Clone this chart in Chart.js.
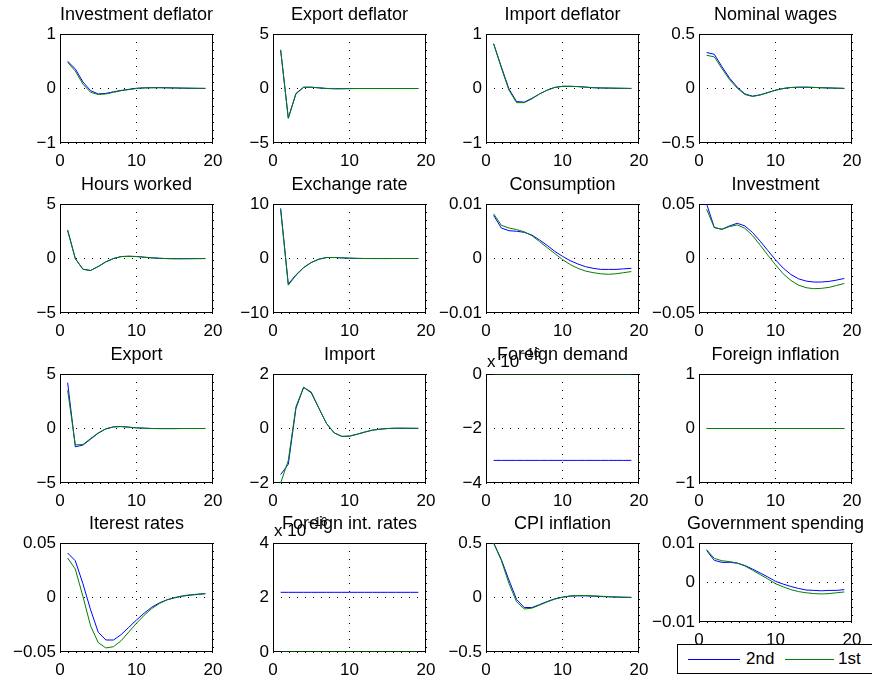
<!DOCTYPE html>
<html>
<head>
<meta charset="utf-8">
<script src="https://cdn.jsdelivr.net/npm/chart.js@4.4.1/dist/chart.umd.min.js"></script>
<style>
html,body{margin:0;padding:0;background:#fff;overflow:hidden;width:872px;height:681px;}
canvas.cv{position:absolute;}
#legend{position:absolute;left:677px;top:644px;width:200px;height:28px;border:1px solid #000;background:#fff;font:17px "Liberation Sans",Arial,sans-serif;color:#000;z-index:5;}
#legend .ln{position:absolute;top:14px;height:0;border-top:1px solid;}
#legend .tx{position:absolute;top:4px;line-height:20px;}
</style>
</head>
<body>
<div id="legend"></div>
<script>
// ---- data ----
const periods = [1,2,3,4,5,6,7,8,9,10,11,12,13,14,15,16,17,18,19];
const xTicks = [0, 10, 20];
const seriesNames = ['2nd', '1st'];
const seriesColors = ['#0000ff', '#008000'];
const titles = ['Investment deflator','Export deflator','Import deflator','Nominal wages',
  'Hours worked','Exchange rate','Consumption','Investment',
  'Export','Import','Foreign demand','Foreign inflation',
  'Iterest rates','Foreign int. rates','CPI inflation','Government spending'];

const ticksInvDefl = [-1, 0, 1];
const ticksExpDefl = [-5, 0, 5];
const ticksImpDefl = [-1, 0, 1];
const ticksWages = [-0.5, 0, 0.5];
const ticksHours = [-5, 0, 5];
const ticksExch = [-10, 0, 10];
const ticksCons = [-0.01, 0, 0.01];
const ticksInvest = [-0.05, 0, 0.05];
const ticksExport = [-5, 0, 5];
const ticksImport = [-2, 0, 2];
const ticksForDem = [-4e-16, -2e-16, 0];
const ticksForInfl = [-1, 0, 1];
const ticksRates = [-0.05, 0, 0.05];
const ticksForRate = [0, 2e-16, 4e-16];
const ticksCpi = [-0.5, 0, 0.5];
const ticksGov = [-0.01, 0, 0.01];

const invDefl2nd = [0.50,0.36,0.12,-0.04,-0.10,-0.09,-0.06,-0.035,-0.015,0.005,0.012,0.015,0.015,0.013,0.010,0.007,0.005,0.003,0.002];
const invDefl1st = [0.48,0.32,0.08,-0.07,-0.11,-0.10,-0.07,-0.04,-0.02,0.0,0.01,0.014,0.015,0.012,0.010,0.007,0.005,0.003,0.002];
const expDefl2nd = [3.55,-2.7,-0.45,0.12,0.12,0.06,0.0,-0.02,-0.02,-0.01,0,0,0,0,0,0,0,0,0];
const expDefl1st = [3.5,-2.75,-0.5,0.10,0.12,0.06,0.01,-0.02,-0.02,-0.01,0,0,0,0,0,0,0,0,0];
const impDefl2nd = [0.82,0.40,-0.01,-0.24,-0.25,-0.18,-0.10,-0.03,0.02,0.04,0.04,0.035,0.025,0.015,0.01,0.008,0.005,0.003,0.001];
const impDefl1st = [0.82,0.38,-0.03,-0.26,-0.26,-0.19,-0.10,-0.03,0.02,0.04,0.04,0.035,0.025,0.015,0.01,0.008,0.005,0.003,0.001];
const wages2nd = [0.33,0.314,0.20,0.095,0.012,-0.05,-0.07,-0.058,-0.037,-0.015,0.0,0.009,0.012,0.012,0.01,0.007,0.005,0.003,0.001];
const wages1st = [0.305,0.29,0.183,0.08,0.003,-0.055,-0.073,-0.06,-0.038,-0.016,0.0,0.009,0.012,0.012,0.01,0.007,0.005,0.003,0.001];
const hours2nd = [2.62,0.0,-0.98,-1.1,-0.73,-0.3,0.0,0.18,0.21,0.18,0.12,0.06,0.02,-0.01,-0.02,-0.02,-0.015,-0.01,-0.005];
const hours1st = [2.55,-0.02,-1.0,-1.1,-0.74,-0.31,0.0,0.17,0.2,0.18,0.12,0.06,0.02,-0.01,-0.02,-0.02,-0.015,-0.01,-0.005];
const exch2nd = [9.2,-4.7,-3.0,-1.65,-0.73,-0.12,0.18,0.18,0.12,0.06,0.02,0.0,-0.01,-0.01,-0.01,0,0,0,0];
const exch1st = [8.9,-4.9,-3.1,-1.7,-0.75,-0.13,0.17,0.18,0.12,0.06,0.02,0.0,-0.01,-0.01,-0.01,0,0,0,0];
const cons2nd = [0.0079,0.0056,0.0051,0.0050,0.0048,0.0043,0.0034,0.0024,0.0013,0.0004,-0.0004,-0.0010,-0.0015,-0.0018,-0.0020,-0.0020,-0.0020,-0.0019,-0.0018];
const cons1st = [0.0082,0.0061,0.0056,0.0053,0.0049,0.0042,0.0031,0.0020,0.0009,-0.0002,-0.0011,-0.0018,-0.0023,-0.0026,-0.0028,-0.0029,-0.0028,-0.0026,-0.0024];
const invest2nd = [0.050,0.0284,0.0268,0.0299,0.0323,0.0299,0.0238,0.0159,0.0073,-0.0012,-0.0088,-0.0146,-0.0186,-0.0207,-0.0216,-0.0216,-0.021,-0.0198,-0.0183];
const invest1st = [0.0451,0.0284,0.0268,0.0293,0.0308,0.0277,0.021,0.0122,0.003,-0.0058,-0.014,-0.0201,-0.0244,-0.0268,-0.0277,-0.0274,-0.0265,-0.0247,-0.0229];
const export2nd = [4.2,-1.68,-1.52,-0.98,-0.43,-0.03,0.15,0.18,0.12,0.06,0.03,0.0,-0.01,-0.01,-0.01,0,0,0,0];
const export1st = [3.5,-1.5,-1.47,-0.92,-0.4,-0.03,0.15,0.18,0.12,0.06,0.03,0.0,-0.01,-0.01,-0.01,0,0,0,0];
const import2nd = [-1.69,-1.31,0.74,1.51,1.31,0.74,0.18,-0.16,-0.29,-0.28,-0.21,-0.13,-0.06,-0.025,0.0,0.01,0.01,0.008,0.005];
const import1st = [-2.0,-1.17,0.80,1.51,1.34,0.75,0.18,-0.16,-0.29,-0.28,-0.21,-0.13,-0.06,-0.025,0.0,0.01,0.01,0.008,0.005];
const forDem2nd = [-3.17e-16,-3.17e-16,-3.17e-16,-3.17e-16,-3.17e-16,-3.17e-16,-3.17e-16,-3.17e-16,-3.17e-16,-3.17e-16,-3.17e-16,-3.17e-16,-3.17e-16,-3.17e-16,-3.17e-16,-3.17e-16,-3.17e-16,-3.17e-16,-3.17e-16];
const forDem1st = [0,0,0,0,0,0,0,0,0,0,0,0,0,0,0,0,0,0,0];
const forInfl2nd = [0,0,0,0,0,0,0,0,0,0,0,0,0,0,0,0,0,0,0];
const forInfl1st = [0,0,0,0,0,0,0,0,0,0,0,0,0,0,0,0,0,0,0];
const rates2nd = [0.0408,0.0337,0.0126,-0.0113,-0.0319,-0.039,-0.039,-0.034,-0.0273,-0.0206,-0.0144,-0.0089,-0.0049,-0.0021,-0.0003,0.0012,0.0021,0.0028,0.0034];
const rates1st = [0.0362,0.0261,0.0009,-0.0261,-0.0414,-0.0463,-0.0451,-0.0396,-0.0316,-0.0236,-0.0163,-0.0101,-0.0055,-0.0021,0.0,0.0015,0.0025,0.0031,0.0037];
const forRate2nd = [2.19e-16,2.19e-16,2.19e-16,2.19e-16,2.19e-16,2.19e-16,2.19e-16,2.19e-16,2.19e-16,2.19e-16,2.19e-16,2.19e-16,2.19e-16,2.19e-16,2.19e-16,2.19e-16,2.19e-16,2.19e-16,2.19e-16];
const forRate1st = [0,0,0,0,0,0,0,0,0,0,0,0,0,0,0,0,0,0,0];
const cpi2nd = [0.5,0.35,0.16,-0.018,-0.092,-0.092,-0.065,-0.037,-0.012,0.003,0.012,0.015,0.015,0.012,0.009,0.006,0.004,0.002,0.001];
const cpi1st = [0.5,0.34,0.13,-0.04,-0.105,-0.098,-0.07,-0.04,-0.015,0.003,0.015,0.018,0.018,0.015,0.012,0.008,0.005,0.003,0.001];
const gov2nd = [0.0081,0.0056,0.0051,0.0051,0.0049,0.0043,0.0034,0.0024,0.0014,0.0003,-0.0004,-0.0010,-0.0015,-0.0019,-0.0020,-0.0021,-0.0020,-0.0020,-0.0018];
const gov1st = [0.0083,0.0061,0.0055,0.0053,0.0049,0.0042,0.0031,0.0020,0.0009,-0.0003,-0.0011,-0.0018,-0.0023,-0.0026,-0.0028,-0.0029,-0.0028,-0.0026,-0.0024];

// ---- panel definitions (built from the arrays above) ----
const panels = [
  {yTicks: ticksInvDefl, s: [invDefl2nd, invDefl1st]},
  {yTicks: ticksExpDefl, s: [expDefl2nd, expDefl1st]},
  {yTicks: ticksImpDefl, s: [impDefl2nd, impDefl1st]},
  {yTicks: ticksWages, s: [wages2nd, wages1st]},
  {yTicks: ticksHours, s: [hours2nd, hours1st]},
  {yTicks: ticksExch, s: [exch2nd, exch1st]},
  {yTicks: ticksCons, s: [cons2nd, cons1st]},
  {yTicks: ticksInvest, s: [invest2nd, invest1st]},
  {yTicks: ticksExport, s: [export2nd, export1st]},
  {yTicks: ticksImport, s: [import2nd, import1st]},
  {yTicks: ticksForDem, s: [forDem2nd, forDem1st], exp: -16},
  {yTicks: ticksForInfl, s: [forInfl2nd, forInfl1st]},
  {yTicks: ticksRates, s: [rates2nd, rates1st]},
  {yTicks: ticksForRate, s: [forRate2nd, forRate1st], exp: -16},
  {yTicks: ticksCpi, s: [cpi2nd, cpi1st]},
  {yTicks: ticksGov, s: [gov2nd, gov1st], short: true}
];

// ---- layout ----
const colLeft = [60, 273, 486, 699];
const rowTop = [34, 204, 374, 543];
const plotW = 153, plotH = 109, shortH = 79;
const padL = 60, padT = 34, padR = 60, padB = 30;
const FONT = '"Liberation Sans", Arial, Helvetica, sans-serif';

const boxPlugin = {
  id: 'matlabBox',
  beforeDatasetsDraw(chart) {
    const a = chart.chartArea, c = chart.ctx;
    c.save();
    c.strokeStyle = '#000';
    c.lineWidth = 1;
    c.strokeRect(Math.round(a.left) + 0.5, Math.round(a.top) + 0.5,
                 Math.round(a.right - a.left) - 1, Math.round(a.bottom - a.top) - 1);
    c.restore();
  },
  afterDraw(chart) {
    const e = chart.options.plugins.matlabBox && chart.options.plugins.matlabBox.exp;
    if (e === undefined || e === null) return;
    const a = chart.chartArea, c = chart.ctx;
    c.save();
    c.fillStyle = '#000';
    c.textBaseline = 'alphabetic';
    c.textAlign = 'left';
    c.font = '17px ' + FONT;
    const base = 'x 10';
    c.fillText(base, a.left + 1, a.top - 7);
    const w = c.measureText(base).width;
    c.font = '12px ' + FONT;
    c.fillText(String(e).replace('-', '\u2212'), a.left + 1 + w + 1, a.top - 17);
    c.restore();
  }
};

function fmt(v, scale) {
  let n = scale ? Math.round(v / scale * 1000) / 1000 : Math.round(v * 1e6) / 1e6;
  return String(n).replace('-', '\u2212');
}

panels.forEach((p, i) => {
  const r = Math.floor(i / 4), col = i % 4;
  const h = p.short ? shortH : plotH;
  const cv = document.createElement('canvas');
  cv.className = 'cv';
  cv.width = plotW + padL + padR;
  cv.height = h + padT + padB;
  cv.style.left = (colLeft[col] - padL) + 'px';
  cv.style.top = (rowTop[r] - padT) + 'px';
  cv.style.width = cv.width + 'px';
  cv.style.height = cv.height + 'px';
  document.body.appendChild(cv);
  const scale = p.exp !== undefined ? Math.pow(10, p.exp) : null;
  const yT = p.yTicks;
  new Chart(cv.getContext('2d'), {
    type: 'line',
    data: {
      datasets: p.s.map((arr, k) => ({
        label: seriesNames[k],
        data: periods.map((x, j) => ({x: x, y: arr[j]})),
        borderColor: seriesColors[k],
        backgroundColor: seriesColors[k],
        borderWidth: 1,
        pointRadius: 0,
        tension: 0,
        fill: false,
        yAxisID: 'y',
        order: k === 0 ? 1 : 0
      }))
    },
    options: {
      responsive: false,
      animation: false,
      events: [],
      devicePixelRatio: 1,
      layout: {padding: 0},
      plugins: {
        legend: {display: false},
        tooltip: {enabled: false},
        title: {
          display: true, text: titles[i], fullSize: true, color: '#000',
          font: {family: FONT, size: 18, weight: 'normal', lineHeight: 1.2},
          padding: {top: 4, bottom: 8.4}
        },
        matlabBox: {exp: p.exp}
      },
      scales: {
        x: {
          type: 'linear', min: xTicks[0], max: xTicks[xTicks.length - 1],
          afterBuildTicks: s => { s.ticks = xTicks.map(v => ({value: v})); },
          afterFit: s => { s.height = padB; },
          ticks: {autoSkip: false, maxRotation: 0, padding: 8, color: '#000',
                  font: {family: FONT, size: 17, lineHeight: 1.2},
                  callback: v => fmt(v, null)},
          grid: {color: '#000', lineWidth: 1, drawTicks: false},
          border: {display: false, dash: [1, 7]}
        },
        y: {
          type: 'linear', position: 'left', min: yT[0], max: yT[yT.length - 1],
          afterBuildTicks: s => { s.ticks = yT.map(v => ({value: v})); },
          afterFit: s => { s.width = padL; },
          ticks: {autoSkip: false, padding: 4, color: '#000',
                  font: {family: FONT, size: 17, lineHeight: 1.2},
                  callback: v => fmt(v, scale)},
          grid: {color: '#000', lineWidth: 1, drawTicks: false},
          border: {display: false, dash: [1, 7]}
        },
        yRight: {
          type: 'linear', position: 'right', display: true, min: 0, max: 1,
          afterFit: s => { s.width = padR; },
          ticks: {display: false},
          grid: {display: false, drawTicks: false},
          border: {display: false}
        }
      }
    },
    plugins: [boxPlugin]
  });
});

// ---- legend ----
const lg = document.getElementById('legend');
const lgLayout = [{line: 10, lw: 52, text: 68}, {line: 107, lw: 49, text: 160}];
seriesNames.forEach((n, k) => {
  const ln = document.createElement('div');
  ln.className = 'ln';
  ln.style.left = lgLayout[k].line + 'px';
  ln.style.width = lgLayout[k].lw + 'px';
  ln.style.borderTopColor = seriesColors[k];
  lg.appendChild(ln);
  const tx = document.createElement('div');
  tx.className = 'tx';
  tx.style.left = lgLayout[k].text + 'px';
  tx.textContent = n;
  lg.appendChild(tx);
});
</script>
</body>
</html>
